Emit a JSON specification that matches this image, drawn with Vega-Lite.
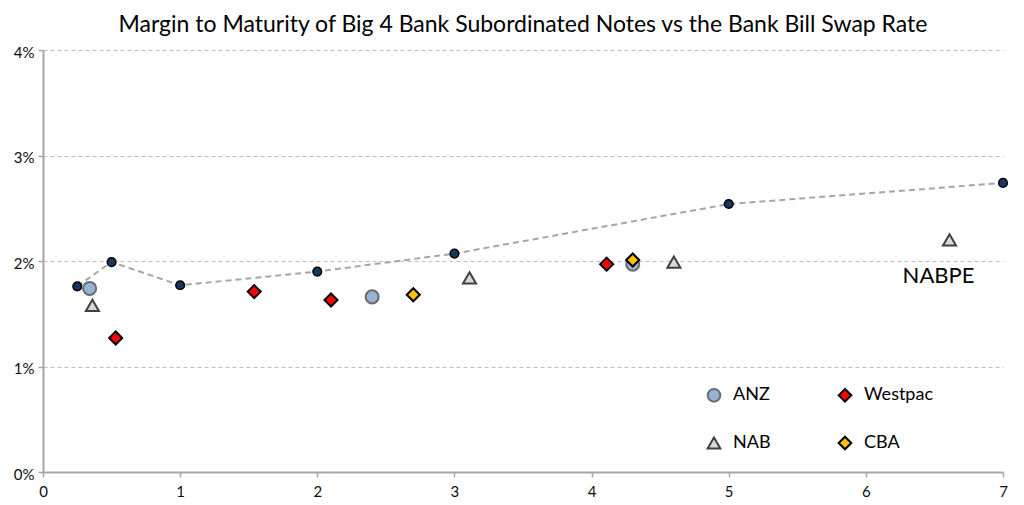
{
  "$schema": "https://vega.github.io/schema/vega-lite/v6.json",
  "width": 960,
  "height": 422,
  "autosize": {"type": "none"},
  "padding": {"left": 43, "top": 50, "right": 21, "bottom": 33},
  "background": "white",
  "title": {
    "text": "Margin to Maturity of Big 4 Bank Subordinated Notes vs the Bank Bill Swap Rate",
    "font": "Lato",
    "fontSize": 23,
    "fontWeight": "normal",
    "color": "#000000",
    "anchor": "middle",
    "offset": 8
  },
  "config": {
    "view": {"stroke": null},
    "font": "Lato"
  },
  "data": {
    "values": [
      {"bank": "BBSW", "maturity": 0.25, "margin": 0.0176},
      {"bank": "BBSW", "maturity": 0.5, "margin": 0.0199},
      {"bank": "BBSW", "maturity": 1, "margin": 0.0177},
      {"bank": "BBSW", "maturity": 2, "margin": 0.0190},
      {"bank": "BBSW", "maturity": 3, "margin": 0.0207},
      {"bank": "BBSW", "maturity": 5, "margin": 0.0254},
      {"bank": "BBSW", "maturity": 7, "margin": 0.0274},
      {"bank": "ANZ", "maturity": 0.34, "margin": 0.0174},
      {"bank": "ANZ", "maturity": 2.40, "margin": 0.0166},
      {"bank": "ANZ", "maturity": 4.30, "margin": 0.0197},
      {"bank": "NAB", "maturity": 0.36, "margin": 0.0158},
      {"bank": "NAB", "maturity": 3.11, "margin": 0.0184},
      {"bank": "NAB", "maturity": 4.60, "margin": 0.0199},
      {"bank": "NAB", "maturity": 6.61, "margin": 0.0220, "label": "NABPE"},
      {"bank": "Westpac", "maturity": 0.53, "margin": 0.0127},
      {"bank": "Westpac", "maturity": 1.54, "margin": 0.0171},
      {"bank": "Westpac", "maturity": 2.10, "margin": 0.0163},
      {"bank": "Westpac", "maturity": 4.11, "margin": 0.0197},
      {"bank": "CBA", "maturity": 2.70, "margin": 0.0168},
      {"bank": "CBA", "maturity": 4.30, "margin": 0.0201}
    ]
  },
  "layer": [
    {
      "transform": [{"filter": "datum.bank === 'BBSW'"}],
      "mark": {"type": "line", "color": "#A6A6A6", "strokeWidth": 2, "strokeDash": [6, 4]},
      "encoding": {
        "x": {"field": "maturity", "type": "quantitative", "scale": {"domain": [0, 7], "nice": false},
          "axis": {"values": [0,1,2,3,4,5,6,7], "format": "d", "labelFlush": false, "title": null, "grid": false, "domainColor": "#A6A6A6", "domainWidth": 2, "tickColor": "#A6A6A6", "tickWidth": 1.5, "tickSize": 5, "labelFont": "Lato", "labelFontSize": 15, "labelColor": "#0D0D0D", "labelPadding": 7}},
        "y": {"field": "margin", "type": "quantitative", "scale": {"domain": [0, 0.04], "nice": false},
          "axis": {"values": [0, 0.01, 0.02, 0.03, 0.04], "format": ".0%", "labelFlush": false, "title": null, "grid": true, "gridColor": "#BFBFBF", "gridDash": [4, 3], "gridWidth": 1, "domainColor": "#A6A6A6", "domainWidth": 2, "tickColor": "#A6A6A6", "tickWidth": 1.5, "tickSize": 5, "labelFont": "Lato", "labelFontSize": 15, "labelColor": "#0D0D0D", "labelPadding": 4, "labelOffset": 2}}
      }
    },
    {
      "transform": [{"filter": "datum.bank === 'BBSW'"}],
      "mark": {"type": "point", "shape": "circle", "filled": true, "fill": "#17375E", "stroke": "#000000", "strokeWidth": 1.5, "size": 75, "opacity": 1},
      "encoding": {
        "x": {"field": "maturity", "type": "quantitative"},
        "y": {"field": "margin", "type": "quantitative"}
      }
    },
    {
      "transform": [{"filter": "datum.bank !== 'BBSW'"}],
      "mark": {"type": "point", "filled": true, "strokeWidth": 2, "size": 170, "opacity": 1},
      "encoding": {
        "x": {"field": "maturity", "type": "quantitative"},
        "y": {"field": "margin", "type": "quantitative"},
        "fill": {"field": "bank", "type": "nominal",
          "scale": {"domain": ["ANZ", "NAB", "Westpac", "CBA"], "range": ["#95B3D7", "#D9D9D9", "#FF0000", "#FFC000"]},
          "legend": {"title": null, "orient": "none", "legendX": 662, "legendY": 336, "columns": 2, "columnPadding": 63, "rowPadding": 26, "labelFont": "Lato", "labelFontSize": 18, "labelColor": "#000000", "symbolSize": 160, "symbolStrokeWidth": 2, "labelOffset": 10}},
        "shape": {"field": "bank", "type": "nominal",
          "scale": {"domain": ["ANZ", "NAB", "Westpac", "CBA"], "range": ["circle", "triangle-up", "diamond", "diamond"]}},
        "stroke": {"field": "bank", "type": "nominal",
          "scale": {"domain": ["ANZ", "NAB", "Westpac", "CBA"], "range": ["#6B6B6B", "#404040", "#000000", "#000000"]}}
      }
    },
    {
      "transform": [{"filter": "datum.label != null"}],
      "mark": {"type": "text", "font": "Lato", "fontSize": 22, "color": "#000000", "dx": -11, "dy": 36},
      "encoding": {
        "x": {"field": "maturity", "type": "quantitative"},
        "y": {"field": "margin", "type": "quantitative"},
        "text": {"field": "label"}
      }
    }
  ]
}
